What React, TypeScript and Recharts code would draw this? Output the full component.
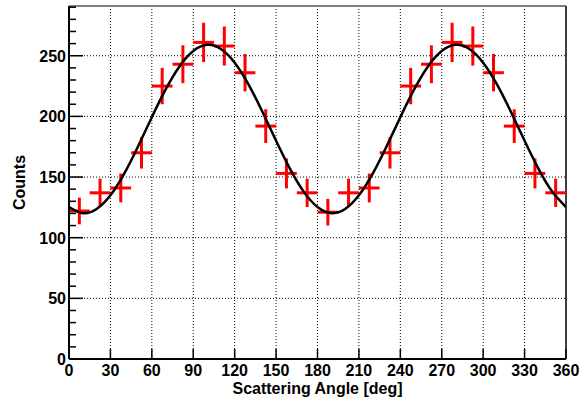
import React from "react";
import {
  ComposedChart,
  Line,
  Scatter,
  ErrorBar,
  XAxis,
  YAxis,
  CartesianGrid,
  ReferenceLine,
} from "recharts";

// histogram bins (centre of each 15 deg bin)
const binCenters = [
  7.5, 22.5, 37.5, 52.5, 67.5, 82.5, 97.5, 112.5, 127.5, 142.5, 157.5, 172.5,
  187.5, 202.5, 217.5, 232.5, 247.5, 262.5, 277.5, 292.5, 307.5, 322.5, 337.5, 352.5,
];
const binCounts = [
  122, 137, 141, 170, 225, 243, 261, 258, 236, 192, 153, 137,
  121, 137, 141, 170, 225, 243, 261, 258, 236, 192, 153, 137,
];
const binErrors = [
  11.0, 11.7, 11.9, 13.0, 15.0, 15.6, 16.2, 16.1, 15.4, 13.9, 12.4, 11.7,
  11.0, 11.7, 11.9, 13.0, 15.0, 15.6, 16.2, 16.1, 15.4, 13.9, 12.4, 11.7,
];
const binHalfWidth = 7.5;

const fitAngles = [
  0, 10, 20, 30, 40, 50, 60, 70, 80, 90, 100, 110, 120, 130, 140, 150, 160, 170,
  180, 190, 200, 210, 220, 230, 240, 250, 260, 270, 280, 290, 300, 310, 320, 330,
  340, 350, 360,
];
const fitValues = [
  125.3, 120.2, 123.6, 134.9, 152.8, 175.2, 199.3, 222.2, 241.2, 253.9, 259.0,
  255.6, 244.3, 226.4, 204.0, 179.9, 157.0, 138.0, 125.3, 120.2, 123.6, 134.9,
  152.8, 175.2, 199.3, 222.2, 241.2, 253.9, 259.0, 255.6, 244.3, 226.4, 204.0,
  179.9, 157.0, 138.0, 125.3,
];

const xTicks = [0, 30, 60, 90, 120, 150, 180, 210, 240, 270, 300, 330, 360];
const yTicks = [
  0, 10, 20, 30, 40, 50, 60, 70, 80, 90, 100, 110, 120, 130, 140, 150, 160, 170,
  180, 190, 200, 210, 220, 230, 240, 250, 260, 270, 280, 290,
];
const yGrid = [50, 100, 150, 200, 250];
const xGrid = [30, 60, 90, 120, 150, 180, 210, 240, 270, 300, 330];
const yMax = 291;

const FONT = "'Liberation Sans', Arial, Helvetica, sans-serif";

const histData = binCenters.map((angle, i) => ({
  angle,
  counts: binCounts[i],
  ex: binHalfWidth,
  ey: binErrors[i],
}));

const fitData = fitAngles.map((angle, i) => ({ angle, fit: fitValues[i] }));

const YTick = (props: any) => {
  const { x, y, payload } = props;
  const major = payload.value % 50 === 0;
  return (
    <g>
      <line
        x1={x}
        x2={x + (major ? 14 : 7)}
        y1={y}
        y2={y}
        stroke="#000"
        strokeWidth={1.5}
      />
      {major && (
        <text
          x={x - 3}
          y={y + 6}
          textAnchor="end"
          fontFamily={FONT}
          fontWeight="bold"
          fontSize={16}
          fill="#000"
        >
          {payload.value}
        </text>
      )}
    </g>
  );
};

const XTick = (props: any) => {
  const { x, y, payload } = props;
  return (
    <g>
      <line x1={x} x2={x} y1={y} y2={y - 10} stroke="#000" strokeWidth={1.5} />
      <text
        x={x}
        y={y + 17}
        textAnchor="middle"
        fontFamily={FONT}
        fontWeight="bold"
        fontSize={16}
        fill="#000"
      >
        {payload.value}
      </text>
    </g>
  );
};

const YTitle = (props: any) => {
  const { viewBox } = props;
  const cx = viewBox.x + 25;
  const cy = viewBox.y + viewBox.height / 2;
  return (
    <text
      x={cx}
      y={cy}
      transform={`rotate(-90, ${cx}, ${cy})`}
      textAnchor="middle"
      fontFamily={FONT}
      fontWeight="bold"
      fontSize={16}
      fill="#000"
    >
      Counts
    </text>
  );
};

const XTitle = (props: any) => {
  const { viewBox } = props;
  const cx = viewBox.x + viewBox.width / 2;
  return (
    <text
      x={cx}
      y={viewBox.y + 35}
      textAnchor="middle"
      fontFamily={FONT}
      fontWeight="bold"
      fontSize={16}
      fill="#000"
    >
      Scattering Angle [deg]
    </text>
  );
};

export default function App() {
  return (
    <div style={{ position: "absolute", left: 0, top: 0, background: "#fff" }}>
      <ComposedChart
        width={587}
        height={398}
        margin={{ top: 6, right: 21, bottom: 0, left: 0 }}
      >
        <CartesianGrid
          stroke="#000"
          strokeDasharray="1 2"
          horizontalValues={yGrid}
          verticalValues={xGrid}
        />
        <XAxis
          type="number"
          dataKey="angle"
          domain={[0, 360]}
          ticks={xTicks}
          interval={0}
          height={39}
          tickSize={0}
          tickMargin={0}
          tickLine={false}
          axisLine={{ stroke: "#000", strokeWidth: 2 }}
          tick={<XTick />}
          label={<XTitle />}
          allowDataOverflow
        />
        <YAxis
          type="number"
          domain={[0, yMax]}
          ticks={yTicks}
          interval={0}
          width={69}
          tickSize={0}
          tickMargin={0}
          tickLine={false}
          axisLine={{ stroke: "#000", strokeWidth: 2 }}
          tick={<YTick />}
          label={<YTitle />}
          allowDataOverflow
        />
        <ReferenceLine y={yMax} stroke="#808080" strokeWidth={2} />
        <ReferenceLine x={360} stroke="#000" strokeWidth={1.5} />
        <Scatter
          data={histData}
          dataKey="counts"
          shape={() => <g />}
          isAnimationActive={false}
        >
          <ErrorBar
            dataKey="ex"
            direction="x"
            width={0}
            stroke="#ff0000"
            strokeWidth={3}
            isAnimationActive={false}
          />
          <ErrorBar
            dataKey="ey"
            direction="y"
            width={0}
            stroke="#ff0000"
            strokeWidth={3}
            isAnimationActive={false}
          />
        </Scatter>
        <Line
          data={fitData}
          dataKey="fit"
          type="natural"
          stroke="#000"
          strokeWidth={2.5}
          dot={false}
          activeDot={false}
          isAnimationActive={false}
        />
      </ComposedChart>
    </div>
  );
}
